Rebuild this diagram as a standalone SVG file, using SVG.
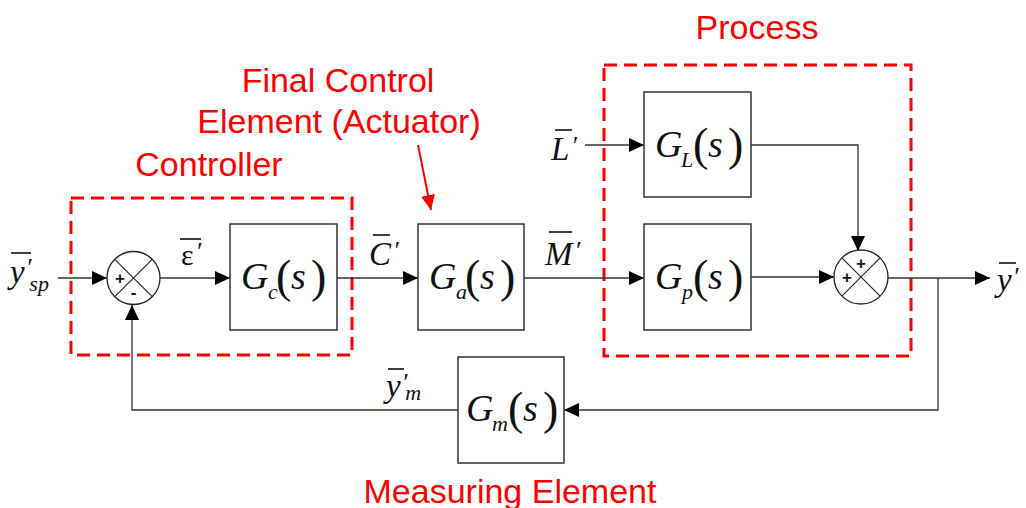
<svg xmlns="http://www.w3.org/2000/svg" width="1026" height="508" viewBox="0 0 1026 508">
<style>
.box{fill:#fff;stroke:#333;stroke-width:1.5}
.ln{fill:none;stroke:#333;stroke-width:1.3}
.sum{fill:#fff;stroke:#222;stroke-width:1.3}
.x{stroke:#222;stroke-width:1.1}
.dash{fill:none;stroke:#ff0000;stroke-width:3;stroke-dasharray:13 7}
.red{font-family:"Liberation Sans",Arial,sans-serif;font-size:34px;fill:#ff0000;text-anchor:middle}
.m{font-family:"Liberation Serif","Times New Roman",serif;font-style:italic;font-size:33px;fill:#111}
.g{font-family:"Liberation Serif","Times New Roman",serif;font-style:italic;font-size:38px;fill:#111}
.ms{font-family:"Liberation Serif","Times New Roman",serif;font-style:italic;font-size:22px;fill:#111}
.p{font-family:"Liberation Serif","Times New Roman",serif;font-size:46px;fill:#111}
.sg{font-family:"Liberation Sans",Arial,sans-serif;font-size:17px;font-weight:bold;fill:#111;text-anchor:middle}
.ov{stroke:#111;stroke-width:1.6}
</style>
<defs>
<marker id="ah" markerUnits="userSpaceOnUse" markerWidth="16" markerHeight="14" refX="15" refY="7" orient="auto">
<path d="M0,0 L15,7 L0,14 Z" fill="#000"/>
</marker>
<marker id="rah" markerUnits="userSpaceOnUse" markerWidth="16" markerHeight="14" refX="15" refY="7" orient="auto">
<path d="M0,0 L15,7 L0,14 Z" fill="#ff0000"/>
</marker>
</defs>

<g id="groups">
<rect class="dash" x="71" y="198" width="281" height="157"/>
<rect class="dash" x="604" y="65" width="307" height="291"/>
<text class="red" x="209" y="176">Controller</text>
<text class="red" x="757" y="39">Process</text>
<text class="red" x="338" y="92">Final Control</text>
<text class="red" x="339" y="133">Element (Actuator)</text>
<text class="red" x="510" y="503">Measuring Element</text>
<line x1="418" y1="145" x2="431" y2="210" stroke="#ff0000" stroke-width="2" marker-end="url(#rah)"/>
</g>

<g id="connectors">
<line class="ln" x1="58" y1="278" x2="107" y2="278" marker-end="url(#ah)"/>
<line class="ln" x1="160" y1="278" x2="230" y2="278" marker-end="url(#ah)"/>
<line class="ln" x1="337" y1="278" x2="418" y2="278" marker-end="url(#ah)"/>
<line class="ln" x1="524" y1="278" x2="644" y2="278" marker-end="url(#ah)"/>
<line class="ln" x1="585" y1="145" x2="644" y2="145" marker-end="url(#ah)"/>
<polyline class="ln" points="751,145 858,145 858,251" marker-end="url(#ah)"/>
<line class="ln" x1="751" y1="277" x2="834" y2="277" marker-end="url(#ah)"/>
<line class="ln" x1="888" y1="278" x2="990" y2="278" marker-end="url(#ah)"/>
<polyline class="ln" points="938,278 938,410 564,410" marker-end="url(#ah)"/>
<polyline class="ln" points="458,410 132,410 132,305" marker-end="url(#ah)"/>
</g>

<g id="sum1">
<circle class="sum" cx="133.5" cy="278" r="26.5"/>
<line class="x" x1="114.8" y1="259.3" x2="152.2" y2="296.7"/>
<line class="x" x1="152.2" y1="259.3" x2="114.8" y2="296.7"/>
<text class="sg" x="120" y="284">+</text>
<text class="sg" x="133.5" y="298">-</text>
</g>

<g id="sum2">
<circle class="sum" cx="861" cy="277" r="27"/>
<line class="x" x1="841.9" y1="257.9" x2="880.1" y2="296.1"/>
<line class="x" x1="880.1" y1="257.9" x2="841.9" y2="296.1"/>
<text class="sg" x="861" y="269">+</text>
<text class="sg" x="847" y="283">+</text>
</g>

<g id="Gc">
<rect class="box" x="230" y="224" width="107" height="106"/>
<text class="g" x="241" y="289">G</text><text class="ms" x="268" y="299">c</text>
<text class="p" x="276" y="292">(</text><text class="g" x="291" y="289">s</text><text class="p" x="311" y="292">)</text>
</g>

<g id="Ga">
<rect class="box" x="418" y="224" width="106" height="106"/>
<text class="g" x="429" y="289">G</text><text class="ms" x="456" y="299">a</text>
<text class="p" x="465" y="292">(</text><text class="g" x="480" y="289">s</text><text class="p" x="500" y="292">)</text>
</g>

<g id="GL">
<rect class="box" x="644" y="92" width="107" height="105"/>
<text class="g" x="655" y="157">G</text><text class="ms" x="681" y="167">L</text>
<text class="p" x="693" y="160">(</text><text class="g" x="708" y="157">s</text><text class="p" x="728" y="160">)</text>
</g>

<g id="Gp">
<rect class="box" x="644" y="224" width="107" height="106"/>
<text class="g" x="655" y="289">G</text><text class="ms" x="682" y="299">p</text>
<text class="p" x="693" y="292">(</text><text class="g" x="708" y="289">s</text><text class="p" x="728" y="292">)</text>
</g>

<g id="Gm">
<rect class="box" x="458" y="357" width="106" height="106"/>
<text class="g" x="466" y="421">G</text><text class="ms" x="492" y="431">m</text>
<text class="p" x="508" y="424">(</text><text class="g" x="523" y="421">s</text><text class="p" x="543" y="424">)</text>
</g>

<g id="labels">
<line class="ov" x1="11" y1="253" x2="31" y2="253"/>
<text class="m" x="10" y="283">y<tspan font-size="26" dx="1" dy="-7">′</tspan><tspan class="ms" dx="-2" dy="15">sp</tspan></text>

<line class="ov" x1="180" y1="239" x2="201" y2="239"/>
<text x="181" y="265" font-family="Liberation Serif,serif" font-size="30" fill="#111">ε<tspan font-style="italic" font-size="26" dx="2" dy="-5">′</tspan></text>

<line class="ov" x1="373" y1="235" x2="390" y2="235"/>
<text class="m" x="369" y="265">C<tspan font-size="26" dx="2" dy="-6">′</tspan></text>

<line class="ov" x1="549" y1="232" x2="572" y2="232"/>
<text class="m" x="545" y="265">M<tspan font-size="26" dx="2" dy="-6">′</tspan></text>

<line class="ov" x1="555" y1="130" x2="572" y2="130"/>
<text class="m" x="551" y="160">L<tspan font-size="26" dx="2" dy="-6">′</tspan></text>

<line class="ov" x1="999" y1="263" x2="1016" y2="263"/>
<text class="m" x="997" y="291">y<tspan font-size="26" dx="1" dy="-6">′</tspan></text>

<line class="ov" x1="388" y1="369" x2="404" y2="369"/>
<text class="m" x="386" y="397">y<tspan font-size="26" dx="1" dy="-6">′</tspan><tspan class="ms" dx="-2" dy="9">m</tspan></text>
</g>
</svg>
